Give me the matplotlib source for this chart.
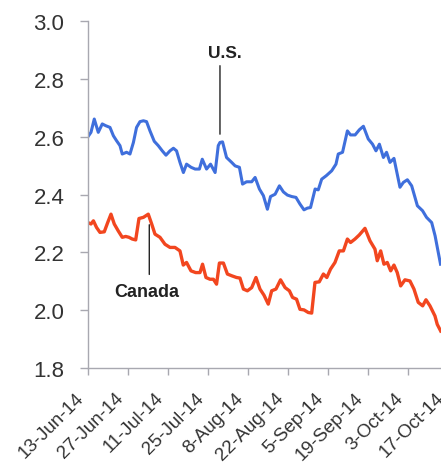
import numpy as np
import matplotlib.pyplot as plt
from matplotlib.transforms import ScaledTranslation

# days since 13-Jun-14
us_days = [0.0, 1.05, 2.2, 3.6, 5.0, 6.2, 7.7, 8.9, 10.0, 11.2, 12.0, 13.5, 14.7,
           15.9, 17.0, 18.2, 19.4, 20.5, 21.7, 23.2, 24.6, 26.0, 27.3, 28.7, 29.9,
           31.0, 32.2, 33.4, 34.5, 36.1, 37.5, 39.0, 40.0, 41.5, 42.9, 44.5, 45.6,
           46.2, 47.1, 48.5, 50.3, 51.5, 53.0, 54.1, 55.5, 57.3, 58.5, 60.0, 61.4,
           62.8, 63.9, 65.5, 67.0, 68.4, 69.8, 71.3, 72.8, 74.2, 75.6, 76.8, 77.9,
           79.5, 80.6, 81.8, 83.4, 85.3, 86.8, 87.6, 89.1, 90.8, 91.9, 93.5, 95.0,
           96.4, 98.1, 99.6, 100.8, 102.0, 103.4, 104.5, 105.7, 107.1, 109.2, 110.4,
           111.8, 113.3, 115.3, 117.1, 118.5, 120.3, 121.5, 122.6, 123.4]
us_yield = [2.600, 2.615, 2.661, 2.615, 2.644, 2.638, 2.632, 2.603, 2.586, 2.569,
            2.540, 2.546, 2.540, 2.580, 2.632, 2.652, 2.655, 2.652, 2.620, 2.584,
            2.569, 2.551, 2.536, 2.551, 2.560, 2.551, 2.511, 2.476, 2.505, 2.494,
            2.488, 2.488, 2.522, 2.488, 2.505, 2.476, 2.569, 2.580, 2.582, 2.528,
            2.511, 2.499, 2.494, 2.436, 2.444, 2.444, 2.459, 2.419, 2.396, 2.349,
            2.393, 2.401, 2.430, 2.409, 2.398, 2.393, 2.390, 2.367, 2.347, 2.353,
            2.355, 2.419, 2.416, 2.453, 2.465, 2.482, 2.505, 2.540, 2.546, 2.620,
            2.606, 2.606, 2.624, 2.636, 2.592, 2.574, 2.551, 2.574, 2.528, 2.546,
            2.511, 2.525, 2.425, 2.442, 2.451, 2.430, 2.361, 2.344, 2.321, 2.303,
            2.257, 2.200, 2.159]

ca_days = [0.0, 1.05, 1.9, 3.0, 4.2, 5.7, 6.9, 8.05, 9.2, 10.6, 12.0, 13.2, 14.35,
           15.5, 16.7, 17.85, 19.4, 21.1, 22.3, 23.45, 25.2, 26.95, 28.7, 30.45,
           32.2, 33.35, 34.5, 36.05, 37.7, 39.2, 40.1, 41.3, 42.7, 43.9, 45.0, 46.0,
           47.4, 48.8, 50.3, 52.0, 53.2, 54.4, 55.8, 57.3, 58.8, 60.2, 61.6, 63.1,
           64.3, 65.8, 67.4, 69.0, 70.5, 71.6, 73.0, 74.2, 75.6, 77.1, 78.3, 79.45,
           80.95, 82.4, 83.6, 84.9, 86.45, 87.95, 89.4, 90.8, 91.9, 93.45, 94.95,
           96.95, 98.7, 100.45, 101.25, 102.45, 103.6, 104.75, 105.95, 107.1, 108.25,
           109.45, 110.95, 112.7, 114.1, 115.6, 117.15, 118.3, 119.7, 121.45, 122.25,
           123.45]
ca_yield = [2.303, 2.298, 2.309, 2.286, 2.269, 2.271, 2.303, 2.332, 2.298, 2.274,
            2.252, 2.255, 2.252, 2.246, 2.243, 2.317, 2.321, 2.332, 2.298, 2.263,
            2.252, 2.228, 2.217, 2.217, 2.205, 2.156, 2.165, 2.136, 2.130, 2.130,
            2.159, 2.113, 2.107, 2.107, 2.090, 2.163, 2.163, 2.125, 2.119, 2.113,
            2.111, 2.073, 2.067, 2.078, 2.113, 2.073, 2.052, 2.021, 2.067, 2.073,
            2.105, 2.078, 2.067, 2.044, 2.038, 2.003, 2.001, 1.992, 1.990, 2.096,
            2.098, 2.125, 2.113, 2.142, 2.165, 2.205, 2.205, 2.246, 2.234, 2.246,
            2.260, 2.283, 2.240, 2.211, 2.171, 2.205, 2.159, 2.165, 2.136, 2.156,
            2.130, 2.084, 2.105, 2.101, 2.073, 2.027, 2.015, 2.036, 2.015, 1.980,
            1.951, 1.928]

tick_days = [0, 14, 28, 42, 56, 70, 84, 98, 112, 126]
tick_labels = ["13-Jun-14", "27-Jun-14", "11-Jul-14", "25-Jul-14", "8-Aug-14",
               "22-Aug-14", "5-Sep-14", "19-Sep-14", "3-Oct-14", "17-Oct-14"]

plt.rcParams['font.family'] = ['Liberation Sans', 'DejaVu Sans']

fig = plt.figure(figsize=(4.41, 4.64), dpi=100)
# the axes runs past the right edge, as in the cropped original
ax = fig.add_axes([0.1995, 0.2047, 0.8422, 0.7479])

ax.plot(us_days, us_yield, color="#3f6fdc", lw=2.2, solid_joinstyle="round")
ax.plot(ca_days, ca_yield, color="#f2461f", lw=2.4, solid_joinstyle="round")

ax.set_xlim(0, 130)
ax.set_ylim(1.8, 3.0)
ax.set_yticks(np.arange(1.8, 3.01, 0.2))
ax.set_yticklabels([f"{v:.1f}" for v in np.arange(1.8, 3.01, 0.2)])
ax.set_xticks(tick_days)
ax.set_xticklabels([])

# date labels drawn by hand so they can sit a little left of their ticks
shift = ScaledTranslation(-0.13, -0.21, fig.dpi_scale_trans)
for d, lab in zip(tick_days, tick_labels):
    ax.text(d, 0, lab, transform=ax.get_xaxis_transform() + shift,
            rotation=45, rotation_mode="anchor", ha="right", va="top",
            fontsize=13.5, color="#333333")

for s in ["top", "right"]:
    ax.spines[s].set_visible(False)
for s in ["left", "bottom"]:
    ax.spines[s].set_color("#a8a8b0")
    ax.spines[s].set_linewidth(1.0)

ax.tick_params(axis="y", length=6, width=1, color="#a8a8b0", pad=11,
               labelsize=16, labelcolor="#333333")
ax.tick_params(axis="x", length=5, width=1, color="#a8a8b0")

# labels with leader lines
ax.annotate("", xy=(46.2, 2.599), xytext=(46.2, 2.855),
            arrowprops=dict(arrowstyle="-", color="#222222", lw=1))
ax.text(47.9, 2.891, "U.S.", fontsize=12.5, fontweight="bold",
        ha="center", va="center", color="#222222")
ax.annotate("", xy=(21.46, 2.305), xytext=(21.46, 2.114),
            arrowprops=dict(arrowstyle="-", color="#222222", lw=1))
ax.text(20.5, 2.066, "Canada", fontsize=13, fontweight="bold",
        ha="center", va="center", color="#222222")

fig.savefig("out.png", dpi=100)
